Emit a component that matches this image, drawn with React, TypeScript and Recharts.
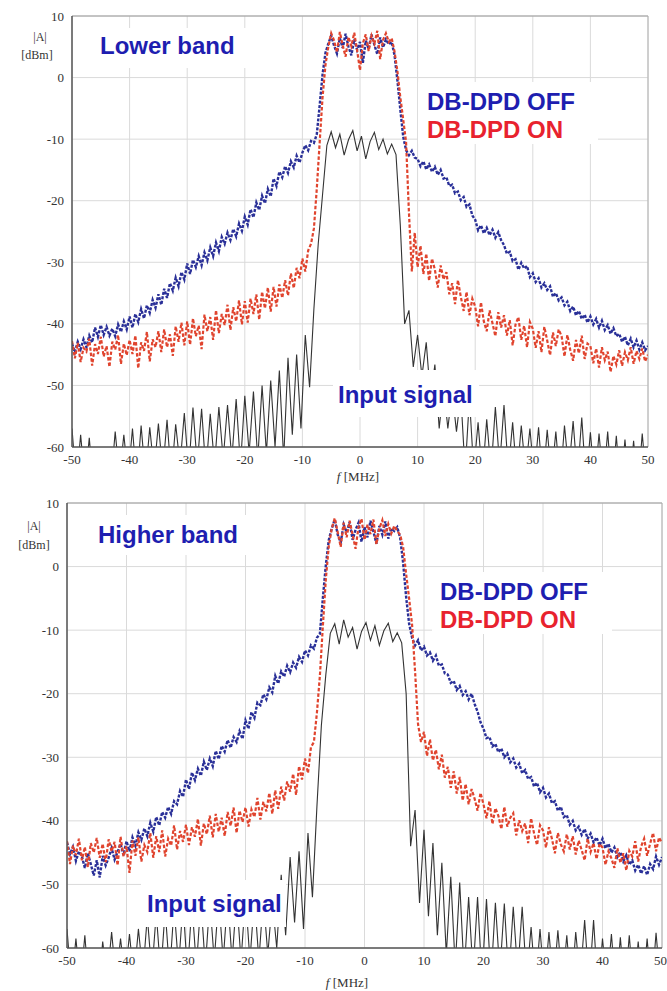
import { LineChart, Line, XAxis, YAxis, CartesianGrid, ReferenceLine } from "recharts";

// spectra are sampled from -50 MHz: 0.5 MHz steps for the PA outputs, 0.75 MHz for the input
const START_F = -50;
const OUT_STEP = 0.5;
const IN_STEP = 0.75;

const xTicks = [-50, -40, -30, -20, -10, 0, 10, 20, 30, 40, 50];
const yTicks = [-60, -50, -40, -30, -20, -10, 0, 10];

// Lower band, DB-DPD OFF [dBm]
const offLower = [
  -43.2, -44.6, -42.9, -44.1, -42.5, -43.8, -41.9, -43.0, -40.6, -42.1,
  -40.2, -41.8, -40.5, -41.9, -40.8, -42.0, -40.1, -41.3, -39.6, -40.9,
  -38.8, -40.6, -38.4, -39.7, -37.6, -39.1, -37.0, -38.2, -36.1, -37.4,
  -35.2, -36.9, -34.3, -35.8, -33.4, -34.6, -32.5, -33.9, -31.6, -32.8,
  -30.2, -31.9, -29.6, -30.8, -29.0, -30.5, -28.4, -29.7, -27.6, -29.0,
  -26.8, -28.2, -25.9, -27.0, -25.2, -26.4, -24.6, -25.8, -23.7, -24.9,
  -22.6, -23.9, -21.4, -22.7, -20.3, -21.5, -19.2, -20.4, -18.1, -19.3,
  -16.4, -17.6, -15.3, -16.2, -14.4, -15.5, -13.6, -14.6, -12.7, -13.8,
  -12.2, -11.0, -11.8, -10.3, -10.6, -9.2, -4.5, 0.5, 4.0, 5.5,
  6.8, 5.2, 3.9, 6.4, 4.8, 7.1, 5.0, 3.6, 6.2, 4.5,
  5.8, 2.4, 6.0, 4.7, 7.0, 5.3, 3.8, 6.5, 4.9, 6.2,
  5.4, 5.8, 3.6, -0.5, -5.2, -9.6, -11.8, -12.6, -11.9, -13.0,
  -13.2, -14.4, -13.6, -14.9, -14.1, -15.3, -14.5, -15.8, -15.0, -16.4,
  -16.2, -17.6, -17.4, -18.8, -18.5, -19.9, -19.4, -21.0, -20.6, -22.4,
  -23.1, -24.8, -24.0, -25.3, -24.4, -25.6, -24.7, -26.0, -25.1, -26.4,
  -27.2, -28.6, -28.3, -29.8, -29.5, -31.2, -30.1, -31.0, -30.6, -32.4,
  -31.8, -33.2, -32.6, -34.1, -33.4, -34.5, -33.9, -35.6, -35.0, -36.2,
  -35.7, -37.0, -36.4, -37.9, -37.2, -38.6, -37.9, -39.2, -38.5, -39.8,
  -38.8, -40.1, -39.2, -40.6, -39.5, -41.0, -40.2, -41.6, -40.7, -42.0,
  -41.6, -42.9, -42.1, -43.5, -42.4, -43.8, -42.7, -44.2, -43.0, -44.3,
  -43.6,
];

// Lower band, DB-DPD ON [dBm]
const onLower = [
  -42.8, -45.6, -43.1, -46.2, -43.9, -44.5, -42.4, -46.8, -43.3, -44.9,
  -42.1, -45.3, -43.6, -47.0, -42.9, -44.2, -41.8, -46.5, -43.2, -45.1,
  -42.6, -44.9, -41.9, -47.2, -43.0, -44.4, -41.3, -46.1, -42.5, -43.8,
  -41.2, -44.6, -40.9, -43.8, -41.7, -45.2, -40.4, -42.9, -39.8, -43.5,
  -39.6, -43.4, -39.1, -42.0, -40.3, -44.1, -38.5, -41.2, -38.9, -42.6,
  -37.8, -41.5, -38.4, -40.2, -36.9, -41.0, -37.3, -39.6, -36.2, -40.1,
  -36.3, -39.8, -35.9, -38.4, -35.2, -39.3, -34.8, -37.5, -34.1, -38.0,
  -34.0, -37.2, -33.6, -35.8, -32.9, -35.4, -31.8, -34.2, -30.9, -32.6,
  -29.4, -31.5, -28.1, -27.0, -24.5, -18.0, -10.5, -3.2, 2.0, 5.0,
  7.2, 6.0, 4.1, 7.4, 5.2, 3.4, 6.6, 5.1, 7.3, 4.4,
  1.2, 5.6, 7.0, 4.3, 6.8, 5.5, 7.6, 3.0, 6.1, 7.2,
  5.8, 6.4, 4.2, 1.0, -3.2, -6.8, -10.5, -22.0, -31.5, -25.2,
  -30.8, -27.3, -31.9, -28.6, -33.0, -29.4, -31.2, -34.1, -30.5, -32.8,
  -31.6, -35.2, -33.4, -36.8, -32.9, -35.6, -37.9, -34.8, -38.6, -35.9,
  -37.2, -40.4, -36.5, -39.6, -41.2, -37.8, -39.9, -42.0, -38.1, -40.6,
  -38.6, -41.9, -39.4, -43.5, -40.1, -38.9, -42.6, -40.3, -43.8, -39.7,
  -40.8, -43.9, -41.2, -44.6, -40.5, -42.7, -45.1, -41.4, -43.6, -40.9,
  -42.0, -45.3, -41.8, -44.2, -46.0, -42.6, -44.8, -41.9, -45.7, -43.2,
  -43.6, -46.4, -44.0, -47.1, -43.8, -45.9, -44.5, -47.8, -45.2, -46.6,
  -44.3, -46.8, -44.6, -45.9, -43.8, -46.5, -44.4, -45.7, -44.0, -46.1,
  -45.0,
];

// Lower band, input signal [dBm]
const inputLower = [
  -57.0, -66, -58.0, -66, -58.5, -67, -62, -67, -60, -66,
  -57.5, -65, -58.0, -65, -57.0, -66, -56.5, -65, -56.8, -64,
  -56.2, -64, -55.6, -65, -56.3, -63, -54.5, -64, -53.6, -63,
  -53.8, -64, -54.6, -63, -53.5, -62, -53.2, -62, -52.2, -63,
  -51.7, -61, -51.0, -62, -50.0, -61, -49.2, -60, -47.6, -62,
  -45.5, -58, -45.0, -57, -41.8, -50.3, -37.5, -27, -19, -11,
  -8.8, -11.4, -9.2, -12.6, -10.1, -8.6, -11.9, -9.5, -13.2, -10.4,
  -8.9, -11.7, -10.0, -12.4, -10.8, -12.5, -24, -40, -37.8, -47,
  -41.8, -48.5, -43.0, -52, -46.6, -57, -50.0, -57, -51.0, -57.5,
  -51.5, -64, -52.0, -64, -56.0, -65, -55.5, -64, -53.5, -63,
  -53.2, -64, -56.0, -65, -56.5, -64, -57.0, -65, -56.8, -66,
  -57.2, -65, -57.5, -66, -56.5, -64, -55.8, -65, -55.2, -66,
  -57.6, -66, -57.8, -66, -57.5, -67, -58.2, -67, -58.8, -67,
  -59.0, -67, -57.8, -66,
];

// Higher band, DB-DPD OFF [dBm]
const offHigher = [
  -43.4, -45.2, -44.1, -46.3, -44.8, -45.6, -47.4, -45.1, -46.8, -48.6,
  -46.2, -48.9, -45.5, -47.0, -45.8, -44.3, -46.1, -44.9, -43.6, -45.4,
  -43.2, -44.8, -42.6, -43.9, -41.8, -43.0, -41.2, -42.4, -40.3, -41.7,
  -39.4, -40.7, -38.6, -39.5, -37.8, -38.9, -36.9, -37.4, -35.3, -36.2,
  -33.5, -35.0, -32.4, -33.6, -31.8, -32.9, -30.7, -32.0, -30.2, -31.4,
  -29.0, -30.3, -28.2, -29.1, -27.3, -28.5, -26.8, -27.6, -25.9, -27.1,
  -24.2, -25.5, -22.9, -23.8, -21.4, -21.8, -20.1, -20.9, -19.0, -19.8,
  -17.2, -18.4, -16.5, -17.3, -15.6, -16.6, -15.1, -15.9, -14.2, -15.0,
  -13.2, -14.0, -12.4, -12.9, -11.2, -10.6, -5.0, 0.2, 4.2, 6.0,
  7.4, 5.0, 3.8, 6.6, 5.4, 7.0, 4.2, 5.8, 6.9, 3.9,
  6.2, 4.6, 7.2, 5.5, 3.6, 6.4, 5.0, 7.1, 4.4, 6.0,
  5.6, 6.2, 4.5, 0.5, -4.8, -9.0, -11.2, -12.4, -11.6, -13.2,
  -12.6, -14.0, -13.5, -14.8, -14.0, -15.6, -15.4, -16.8, -17.0, -18.3,
  -18.0, -19.4, -18.8, -20.2, -19.6, -20.9, -20.0, -21.6, -22.8, -24.5,
  -25.5, -27.0, -26.8, -28.3, -27.9, -29.2, -28.6, -30.0, -29.4, -30.8,
  -30.2, -31.6, -31.0, -32.5, -32.0, -33.4, -33.1, -34.6, -34.0, -35.5,
  -34.8, -36.3, -35.7, -37.2, -36.9, -38.4, -37.8, -39.4, -39.1, -40.6,
  -40.0, -41.5, -40.9, -42.2, -41.3, -42.8, -42.0, -43.4, -42.6, -43.9,
  -42.8, -44.3, -43.6, -45.0, -44.2, -45.7, -44.9, -46.4, -45.4, -46.9,
  -46.2, -47.8, -46.9, -48.3, -47.1, -48.5, -46.8, -47.6, -45.6, -46.9,
  -45.7,
];

// Higher band, DB-DPD ON [dBm]
const onHigher = [
  -43.2, -46.8, -43.9, -45.4, -42.8, -46.2, -44.1, -47.3, -43.5, -45.0,
  -42.7, -45.8, -43.6, -46.5, -42.9, -44.8, -43.3, -47.0, -42.5, -45.6,
  -44.0, -48.2, -43.1, -45.5, -42.6, -46.4, -43.8, -44.9, -41.9, -45.8,
  -42.4, -44.9, -41.5, -45.6, -42.8, -43.9, -40.7, -44.5, -41.6, -43.3,
  -40.6, -43.8, -41.0, -42.5, -39.7, -43.9, -40.4, -42.1, -39.2, -42.6,
  -38.9, -41.7, -39.5, -42.4, -38.6, -40.8, -37.9, -41.9, -38.4, -40.2,
  -37.9, -40.9, -38.2, -39.4, -36.4, -39.8, -37.0, -38.5, -35.6, -38.9,
  -35.2, -38.1, -34.6, -36.8, -33.8, -35.4, -32.6, -35.9, -31.4, -33.5,
  -30.2, -32.5, -28.4, -27.6, -23.0, -17.2, -9.4, -2.0, 3.2, 6.0,
  7.6, 5.4, 3.1, 6.9, 4.6, 7.2, 5.0, 2.8, 6.3, 7.5,
  4.2, 6.6, 5.1, 7.4, 3.5, 6.0, 7.3, 4.8, 6.7, 5.2,
  6.4, 5.6, 5.0, 3.0, -1.2, -5.0, -9.2, -16.5, -24.8, -27.6,
  -26.0, -29.8, -27.2, -30.5, -28.8, -31.9, -29.6, -33.2, -31.5, -34.8,
  -32.2, -35.7, -33.1, -36.8, -34.2, -37.4, -35.0, -36.5, -38.4, -35.6,
  -37.4, -39.6, -36.9, -40.5, -38.0, -39.2, -41.3, -37.8, -40.9, -39.5,
  -38.8, -42.3, -39.9, -41.6, -40.4, -43.5, -39.6, -42.0, -43.8, -40.7,
  -41.5, -44.2, -41.0, -42.8, -45.1, -41.9, -43.7, -44.8, -42.1, -44.5,
  -42.4, -45.3, -43.1, -44.6, -46.2, -42.8, -44.9, -43.5, -46.0, -43.6,
  -44.2, -46.9, -44.8, -45.9, -47.4, -44.3, -46.6, -45.1, -47.8, -44.7,
  -45.6, -43.2, -46.4, -44.0, -42.8, -45.5, -43.6, -41.9, -44.8, -42.6,
  -43.5,
];

// Higher band, input signal [dBm]
const inputHigher = [
  -57.0, -66, -58.5, -66, -58.0, -67, -63, -67, -59, -65,
  -57.5, -65, -58.5, -65, -57.8, -65, -57.0, -64, -55.0, -64,
  -54.5, -64, -54.0, -64, -53.5, -63, -53.0, -64, -53.0, -63,
  -52.5, -63, -52.5, -62, -52.0, -62, -52.0, -62, -52.0, -62,
  -51.8, -62, -52.0, -62, -52.0, -61, -52.5, -60, -48.5, -58,
  -45.7, -56, -44.8, -57, -41.9, -52, -37.8, -25, -17, -10.5,
  -9.0, -12.2, -8.4, -11.1, -9.6, -13.0, -10.2, -8.8, -11.6, -9.3,
  -12.4, -10.1, -8.9, -11.8, -10.4, -12.0, -20, -44, -38.3, -52.9,
  -41.4, -55, -43.5, -58, -46.6, -61, -48.8, -63, -49.7, -64,
  -52.0, -64, -52.0, -65, -52.3, -65, -52.9, -64, -53.0, -65,
  -53.5, -64, -53.5, -65, -56.7, -66, -57.0, -66, -57.5, -66,
  -57.2, -66, -58.0, -67, -57.5, -65, -55.6, -66, -55.6, -67,
  -58.5, -66, -57.8, -67, -58.3, -67, -58.0, -67, -59.0, -67,
  -58.5, -67, -57.6, -66,
];

const toPoints = (values: number[], step: number) =>
  values.map((v, i) => ({ f: START_F + i * step, v }));

const BLUE_TEXT = "#1e1eb0";
const RED_TEXT = "#e8222e";
const OFF_COLOR = "#2a3098";
const ON_COLOR = "#e0442e";
const INPUT_COLOR = "#333";

const tickStyle = { fontFamily: "Liberation Serif, serif", fontSize: 13, fill: "#333" };

interface PanelProps {
  top: number;
  height: number;
  margin: { top: number; right: number; bottom: number; left: number };
  off: number[];
  on: number[];
  input: number[];
}

const Panel = ({ top, height, margin, off, on, input }: PanelProps) => (
  <div style={{ position: "absolute", left: 0, top }}>
    <LineChart width={667} height={height} margin={margin}>
      <CartesianGrid stroke="#dadada" />
      <XAxis
        type="number"
        dataKey="f"
        domain={[-50, 50]}
        ticks={xTicks}
        allowDataOverflow
        height={30}
        tickLine={false}
        tickMargin={2}
        tick={tickStyle}
        axisLine={{ stroke: "#555", strokeWidth: 1.5 }}
      />
      <YAxis
        type="number"
        domain={[-60, 10]}
        ticks={yTicks}
        allowDataOverflow
        width={60}
        tickLine={false}
        tick={tickStyle}
        axisLine={{ stroke: "#555", strokeWidth: 1.5 }}
      />
      <ReferenceLine y={10} stroke="#9a9a9a" />
      <ReferenceLine x={50} stroke="#b0b0b0" />
      <Line
        data={toPoints(input, IN_STEP)}
        dataKey="v"
        type="linear"
        stroke={INPUT_COLOR}
        strokeWidth={1.1}
        dot={false}
        activeDot={false}
        isAnimationActive={false}
      />
      <Line
        data={toPoints(off, OUT_STEP)}
        dataKey="v"
        type="linear"
        stroke={OFF_COLOR}
        strokeWidth={2.4}
        strokeDasharray="3 1.5"
        dot={false}
        activeDot={false}
        isAnimationActive={false}
      />
      <Line
        data={toPoints(on, OUT_STEP)}
        dataKey="v"
        type="linear"
        stroke={ON_COLOR}
        strokeWidth={2.2}
        strokeDasharray="3.5 2"
        dot={false}
        activeDot={false}
        isAnimationActive={false}
      />
    </LineChart>
  </div>
);

const boldText = {
  fontFamily: "Liberation Sans, Arial, sans-serif",
  fontWeight: 700,
  fontSize: 24,
  lineHeight: "28px",
  whiteSpace: "nowrap" as const,
};

const Box = ({ left, top, width, height, padTop, padLeft, children }: any) => (
  <div
    style={{
      position: "absolute",
      left,
      top,
      width,
      height,
      background: "#fff",
      paddingTop: padTop,
      paddingLeft: padLeft,
      boxSizing: "border-box",
      ...boldText,
    }}
  >
    {children}
  </div>
);

const serif = {
  fontFamily: "Liberation Serif, serif",
  fontSize: 12,
  lineHeight: "14px",
  color: "#333",
  position: "absolute" as const,
  transform: "translate(-50%, -50%)",
  whiteSpace: "nowrap" as const,
};

const AxisText = ({ x, y, children, size = 12 }: any) => (
  <div style={{ ...serif, left: x, top: y, fontSize: size }}>{children}</div>
);

export default function App() {
  return (
    <div style={{ position: "absolute", left: 0, top: 0, width: 667, height: 991, overflow: "hidden", background: "#fff" }}>
      <Panel top={0} height={490} margin={{ top: 16, right: 19, bottom: 13, left: 12 }} off={offLower} on={onLower} input={inputLower} />
      <Panel top={487} height={504} margin={{ top: 16, right: 5, bottom: 13, left: 7 }} off={offHigher} on={onHigher} input={inputHigher} />

      {/* lower band annotations */}
      <Box left={95} top={28} width={160} height={40} padTop={4} padLeft={5}>
        <span style={{ color: BLUE_TEXT }}>Lower band</span>
      </Box>
      <Box left={418} top={82} width={180} height={62} padTop={6} padLeft={9}>
        <div style={{ color: BLUE_TEXT }}>DB-DPD OFF</div>
        <div style={{ color: RED_TEXT }}>DB-DPD ON</div>
      </Box>
      <Box left={333} top={370} width={146} height={47} padTop={11} padLeft={5}>
        <span style={{ color: BLUE_TEXT }}>Input signal</span>
      </Box>
      <AxisText x={40} y={37}>|A|</AxisText>
      <AxisText x={37} y={55}>[dBm]</AxisText>
      <AxisText x={358} y={477} size={13}>
        <i>f</i> [MHz]
      </AxisText>

      {/* higher band annotations */}
      <Box left={92} top={515} width={160} height={40} padTop={6} padLeft={6}>
        <span style={{ color: BLUE_TEXT }}>Higher band</span>
      </Box>
      <Box left={432} top={572} width={180} height={62} padTop={6} padLeft={8}>
        <div style={{ color: BLUE_TEXT }}>DB-DPD OFF</div>
        <div style={{ color: RED_TEXT }}>DB-DPD ON</div>
      </Box>
      <Box left={141} top={880} width={145} height={47} padTop={10} padLeft={6}>
        <span style={{ color: BLUE_TEXT }}>Input signal</span>
      </Box>
      <AxisText x={34} y={526}>|A|</AxisText>
      <AxisText x={34} y={545}>[dBm]</AxisText>
      <AxisText x={347} y={983} size={13}>
        <i>f</i> [MHz]
      </AxisText>
    </div>
  );
}
